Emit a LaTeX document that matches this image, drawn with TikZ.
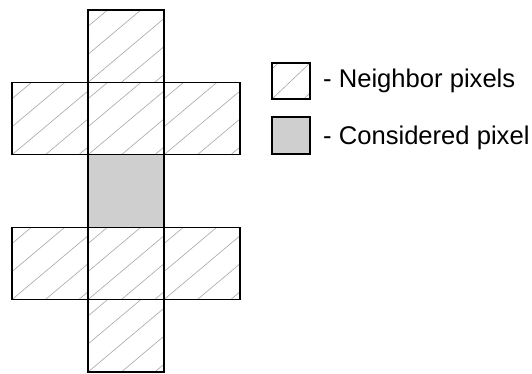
\documentclass[tikz,border=0pt]{standalone}
\usepackage{fontspec}
\setmainfont{Liberation Sans}
\begin{document}
\begin{tikzpicture}[x=1pt,y=1pt,
  hatchline/.style={draw=gray!70,line width=0.6pt},
  cell/.style={draw=black,line width=1.2pt,minimum width=76pt,minimum height=72.4pt,inner sep=0pt,outer sep=0pt},
  hatched/.style={cell,path picture={
     \foreach \c in {-84,-56,-28,0,28,56} {
       \draw[hatchline] ([yshift=\c pt]path picture bounding box.south west) -- ++(110pt,92.4pt);
     }}},
  considered/.style={cell,fill=gray!38},
  legbox/.style={draw=black,line width=1.2pt,minimum width=38pt,minimum height=36pt,inner sep=0pt},
  leghatch/.style={legbox,path picture={
     \foreach \c in {-30,0,30} {
       \draw[hatchline] ([yshift=\c pt]path picture bounding box.south west) -- ++(50pt,47.4pt);
     }}},
  legtext/.style={anchor=west,inner sep=0pt,font=\fontsize{25.6}{30}\selectfont}
]
\useasboundingbox (0,0) rectangle (532,373);
% rows (tikz y of centres): 372-...; top at image y=10
\node[hatched] (top) at (126,326.8) {};
\node[hatched] (ul) at (50,254.4) {};
\node[hatched] (uc) at (126,254.4) {};
\node[hatched] (ur) at (202,254.4) {};
\node[considered] (mid) at (126,182) {};
\node[hatched] (ll) at (50,109.6) {};
\node[hatched] (lc) at (126,109.6) {};
\node[hatched] (lr) at (202,109.6) {};
\node[hatched] (bot) at (126,37.2) {};
% legend
\node[leghatch] (lh) at (291,292) {};
\node[legbox,fill=gray!38,minimum height=37pt] (lg) at (291,237.5) {};
\node[legtext] (t1) at (323,292) {- Neighbor pixels};
\node[legtext] (t2) at (323,235) {- Considered pixel};
\end{tikzpicture}
\end{document}
